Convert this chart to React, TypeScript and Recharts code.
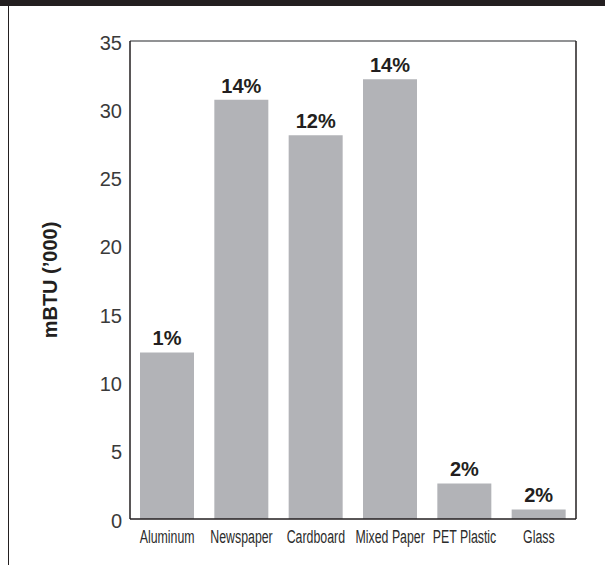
import { BarChart, Bar, XAxis, YAxis, LabelList, Label } from "recharts";

const categories = ["Aluminum", "Newspaper", "Cardboard", "Mixed Paper", "PET Plastic", "Glass"];
const energy = [12.2, 30.7, 28.1, 32.2, 2.6, 0.7];
const shares = ["1%", "14%", "12%", "14%", "2%", "2%"];
const yTicks = [0, 5, 10, 15, 20, 25, 30, 35];

const data = categories.map((name, i) => ({ name, energy: energy[i], share: shares[i] }));

const ink = "#231f20";

// condensed look: squeeze Liberation Sans horizontally
function CategoryTick({ x, y, payload }: any) {
  return (
    <g transform={`translate(${x},${y + 16})`}>
      <text
        transform="scale(0.65,1)"
        textAnchor="middle"
        fontFamily="'Liberation Sans', Arial, sans-serif"
        fontSize={19}
        fill="#2b2b2b"
      >
        {payload.value}
      </text>
    </g>
  );
}

function ValueTick({ x, y, payload }: any) {
  return (
    <text
      x={x}
      y={y + 8.5}
      textAnchor="end"
      fontFamily="'Liberation Sans', Arial, sans-serif"
      fontSize={20}
      fill="#3a3a3a"
    >
      {payload.value}
    </text>
  );
}

function AxisTitle({ viewBox }: any) {
  const cx = 57;
  const cy = viewBox.y + viewBox.height / 2;
  return (
    <text
      x={cx}
      y={cy}
      transform={`rotate(-90 ${cx} ${cy})`}
      textAnchor="middle"
      fontFamily="'Liberation Sans', Arial, sans-serif"
      fontWeight="bold"
      fontSize={20}
      fill={ink}
    >
      mBTU (’000)
    </text>
  );
}

export default function App() {
  return (
    <div
      style={{
        position: "absolute",
        left: 0,
        top: 0,
        width: 605,
        height: 565,
        background: "#fff",
        overflow: "hidden",
      }}
    >
      <div style={{ position: "absolute", left: 0, top: 0, width: 605, height: 6, background: ink }} />
      <div style={{ position: "absolute", left: 7.5, top: 6, width: 1.5, height: 559, background: ink }} />
      <BarChart
        width={605}
        height={565}
        data={data}
        margin={{ top: 40, right: 28, bottom: 16, left: 60 }}
        style={{ position: "absolute", left: 0, top: 0 }}
      >
        <XAxis
          dataKey="name"
          axisLine
          stroke={ink}
          strokeWidth={1.5}
          tickLine={false}
          height={30}
          interval={0}
          tick={<CategoryTick />}
        />
        <XAxis
          xAxisId="top"
          dataKey="name"
          orientation="top"
          height={1}
          axisLine
          stroke="#6d6e71"
          strokeWidth={1.5}
          tick={false}
          tickLine={false}
        />
        <YAxis
          domain={[0, 35]}
          ticks={yTicks}
          width={70}
          axisLine
          stroke={ink}
          strokeWidth={1.5}
          tickLine={false}
          tick={<ValueTick />}
        >
          <Label content={<AxisTitle />} />
        </YAxis>
        <YAxis
          yAxisId="right"
          orientation="right"
          domain={[0, 35]}
          width={1}
          axisLine
          stroke={ink}
          strokeWidth={1.5}
          tick={false}
          tickLine={false}
        />
        <Bar dataKey="energy" fill="#b2b3b7" barSize={54} isAnimationActive={false}>
          <LabelList
            dataKey="share"
            position="top"
            offset={7}
            fill={ink}
            fontFamily="'Liberation Sans', Arial, sans-serif"
            fontWeight="bold"
            fontSize={20}
          />
        </Bar>
      </BarChart>
    </div>
  );
}
